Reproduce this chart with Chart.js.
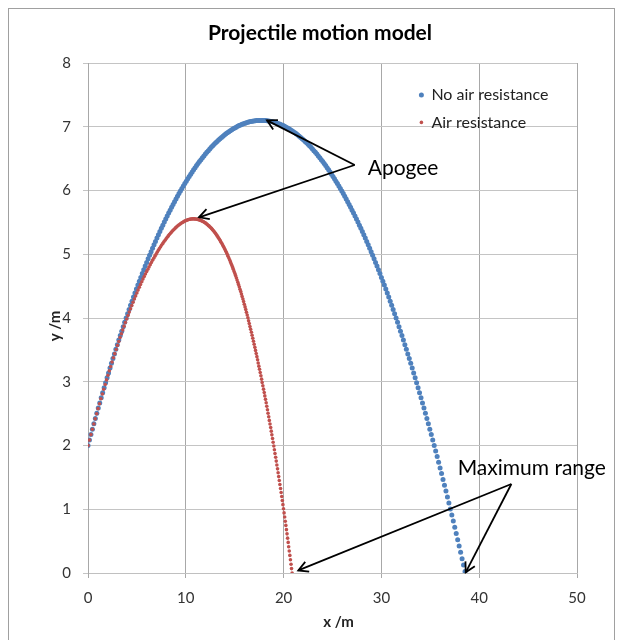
<!DOCTYPE html>
<html><head><meta charset="utf-8">
<script src="https://cdn.jsdelivr.net/npm/chart.js@4.4.1/dist/chart.umd.min.js"></script>
<style>html,body{margin:0;padding:0;background:#fff;} #wrap{width:623px;height:640px;}</style>
</head><body><div id="wrap"><canvas id="c" width="623" height="640"></canvas></div>
<script>
const chartTitle = 'Projectile motion model';
const xAxisTitle = 'x /m';
const yAxisTitle = 'y /m';
const seriesNames = ['No air resistance', 'Air resistance'];
const xTicks = [0, 10, 20, 30, 40, 50];
const yTicks = [0, 1, 2, 3, 4, 5, 6, 7, 8];

// [x, y] points
const noAirResistance = [[0,2],[0.15,2.086],[0.3,2.171],[0.45,2.256],[0.6,2.34],[0.75,2.423],[0.9,2.506],[1.05,2.587],[1.2,2.668],[1.35,2.748],[1.5,2.828],[1.65,2.907],[1.8,2.985],[1.95,3.062],[2.1,3.138],[2.25,3.214],[2.4,3.289],[2.55,3.364],[2.7,3.437],[2.85,3.51],[3,3.582],[3.15,3.654],[3.3,3.724],[3.45,3.794],[3.6,3.864],[3.75,3.932],[3.9,4],[4.05,4.067],[4.2,4.133],[4.35,4.199],[4.5,4.264],[4.65,4.328],[4.8,4.391],[4.95,4.454],[5.1,4.516],[5.25,4.577],[5.4,4.637],[5.55,4.697],[5.7,4.756],[5.85,4.814],[6,4.872],[6.15,4.928],[6.3,4.984],[6.45,5.04],[6.6,5.094],[6.75,5.148],[6.9,5.201],[7.05,5.254],[7.2,5.305],[7.35,5.356],[7.5,5.406],[7.65,5.456],[7.8,5.505],[7.95,5.553],[8.1,5.6],[8.25,5.646],[8.4,5.692],[8.55,5.737],[8.7,5.781],[8.85,5.825],[9,5.868],[9.15,5.91],[9.3,5.951],[9.45,5.992],[9.6,6.032],[9.75,6.071],[9.9,6.11],[10.05,6.147],[10.2,6.184],[10.35,6.221],[10.5,6.256],[10.65,6.291],[10.8,6.325],[10.95,6.358],[11.1,6.391],[11.25,6.423],[11.4,6.454],[11.55,6.484],[11.7,6.514],[11.85,6.543],[12,6.571],[12.15,6.599],[12.3,6.625],[12.45,6.651],[12.6,6.677],[12.75,6.701],[12.9,6.725],[13.05,6.748],[13.2,6.77],[13.35,6.792],[13.5,6.813],[13.65,6.833],[13.8,6.852],[13.95,6.871],[14.1,6.889],[14.25,6.906],[14.4,6.923],[14.55,6.938],[14.7,6.953],[14.85,6.968],[15,6.981],[15.15,6.994],[15.3,7.006],[15.45,7.018],[15.6,7.028],[15.75,7.038],[15.9,7.047],[16.05,7.056],[16.2,7.063],[16.35,7.07],[16.5,7.077],[16.65,7.082],[16.8,7.087],[16.95,7.091],[17.1,7.094],[17.25,7.097],[17.4,7.099],[17.55,7.1],[17.7,7.1],
[17.85,7.1],[18,7.099],[18.15,7.097],[18.3,7.094],[18.45,7.091],[18.6,7.087],[18.75,7.082],[18.9,7.077],[19.05,7.07],[19.2,7.063],[19.35,7.056],[19.5,7.047],[19.65,7.038],[19.8,7.028],[19.95,7.018],[20.1,7.006],[20.25,6.994],[20.4,6.981],[20.55,6.968],[20.7,6.953],[20.85,6.938],[21,6.923],[21.15,6.906],[21.3,6.889],[21.45,6.871],[21.6,6.852],[21.75,6.833],[21.9,6.813],[22.05,6.792],[22.2,6.77],[22.35,6.748],[22.5,6.725],[22.65,6.701],[22.8,6.677],[22.95,6.651],[23.1,6.625],[23.25,6.599],[23.4,6.571],[23.55,6.543],[23.7,6.514],[23.85,6.484],[24,6.454],[24.15,6.423],[24.3,6.391],[24.45,6.358],[24.6,6.325],[24.75,6.291],[24.9,6.256],[25.05,6.221],[25.2,6.184],[25.35,6.147],[25.5,6.11],[25.65,6.071],[25.8,6.032],[25.95,5.992],[26.1,5.951],[26.25,5.91],[26.4,5.868],[26.55,5.825],[26.7,5.781],[26.85,5.737],[27,5.692],[27.15,5.646],[27.3,5.6],[27.45,5.553],[27.6,5.505],[27.75,5.456],[27.9,5.406],[28.05,5.356],[28.2,5.305],[28.35,5.254],[28.5,5.201],[28.65,5.148],[28.8,5.094],[28.95,5.04],[29.1,4.984],[29.25,4.928],[29.4,4.872],[29.55,4.814],[29.7,4.756],[29.85,4.697],[30,4.637],[30.15,4.577],[30.3,4.516],[30.45,4.454],[30.6,4.391],[30.75,4.328],[30.9,4.264],[31.05,4.199],[31.2,4.133],[31.35,4.067],[31.5,4],[31.65,3.932],[31.8,3.864],[31.95,3.794],[32.1,3.724],[32.25,3.654],[32.4,3.582],[32.55,3.51],[32.7,3.437],[32.85,3.364],[33,3.289],[33.15,3.214],[33.3,3.138],[33.45,3.062],[33.6,2.985],[33.75,2.907],[33.9,2.828],[34.05,2.748],[34.2,2.668],[34.35,2.587],[34.5,2.506],[34.65,2.423],[34.8,2.34],[34.95,2.256],[35.1,2.171],[35.25,2.086],[35.4,2],[35.55,1.913],[35.7,1.826],[35.85,1.737],[36,1.648],[36.15,1.559],[36.3,1.468],[36.45,1.377],[36.6,1.285],[36.75,1.192],[36.9,1.099],[37.05,1.005],[37.2,0.91],[37.35,0.814],[37.5,0.718],[37.65,0.621],[37.8,0.523],[37.95,0.425],[38.1,0.325],[38.25,0.225],[38.4,0.125],[38.55,0.023]];

const airResistance = [[0,2],[0.15,2.086],[0.3,2.171],[0.45,2.254],[0.6,2.337],[0.74,2.418],[0.89,2.498],[1.03,2.578],[1.18,2.656],[1.32,2.733],[1.47,2.809],[1.61,2.883],[1.76,2.957],[1.9,3.029],[2.04,3.101],[2.18,3.171],[2.32,3.24],[2.46,3.309],[2.6,3.376],[2.74,3.441],[2.88,3.506],[3.01,3.57],[3.15,3.632],[3.28,3.694],[3.42,3.754],[3.55,3.813],[3.69,3.872],[3.82,3.929],[3.96,3.984],[4.09,4.039],[4.22,4.093],[4.35,4.146],[4.48,4.197],[4.61,4.247],[4.74,4.297],[4.87,4.345],[5,4.392],[5.12,4.438],[5.25,4.483],[5.37,4.526],[5.5,4.569],[5.62,4.61],[5.75,4.651],[5.87,4.69],[6,4.728],[6.12,4.765],[6.24,4.801],[6.36,4.837],[6.48,4.871],[6.6,4.905],[6.72,4.938],[6.84,4.97],[6.96,5.001],[7.07,5.032],[7.19,5.061],[7.3,5.09],[7.42,5.117],[7.53,5.144],[7.65,5.17],[7.76,5.196],[7.88,5.22],[7.99,5.243],[8.1,5.266],[8.21,5.288],[8.32,5.309],[8.43,5.329],[8.54,5.348],[8.65,5.367],[8.76,5.384],[8.86,5.401],[8.97,5.417],[9.07,5.431],[9.18,5.446],[9.28,5.459],[9.39,5.471],[9.49,5.483],[9.6,5.493],[9.7,5.503],[9.8,5.512],[9.9,5.52],[10,5.528],[10.1,5.534],[10.2,5.54],[10.3,5.544],[10.4,5.548],[10.49,5.551],[10.59,5.553],[10.68,5.555],[10.78,5.555],
[10.87,5.555],[10.95,5.554],[11.04,5.552],[11.13,5.55],[11.21,5.547],[11.3,5.544],[11.38,5.539],[11.47,5.535],[11.55,5.529],[11.64,5.523],[11.72,5.517],[11.81,5.509],[11.89,5.501],[11.98,5.493],[12.06,5.484],[12.14,5.474],[12.23,5.463],[12.31,5.452],[12.39,5.441],[12.48,5.428],[12.56,5.415],[12.64,5.402],[12.72,5.387],[12.81,5.372],[12.89,5.357],[12.97,5.341],[13.05,5.324],[13.13,5.306],[13.21,5.288],[13.29,5.27],[13.37,5.25],[13.45,5.23],[13.53,5.21],[13.61,5.189],[13.69,5.167],[13.77,5.144],[13.85,5.121],[13.93,5.097],[14.01,5.073],[14.09,5.048],[14.17,5.022],[14.25,4.996],[14.32,4.969],[14.4,4.941],[14.48,4.913],[14.56,4.884],[14.63,4.855],[14.71,4.825],[14.79,4.794],[14.86,4.763],[14.94,4.73],[15.02,4.698],[15.09,4.665],[15.17,4.631],[15.24,4.596],[15.32,4.561],[15.39,4.525],[15.47,4.489],[15.54,4.452],[15.62,4.414],[15.69,4.375],[15.76,4.336],[15.84,4.297],[15.91,4.257],[15.98,4.216],[16.06,4.174],[16.13,4.132],[16.2,4.089],[16.28,4.046],[16.35,4.002],
[16.42,3.957],[16.49,3.913],[16.56,3.867],[16.63,3.822],[16.71,3.776],[16.78,3.729],[16.85,3.682],[16.92,3.635],[16.99,3.588],[17.06,3.54],[17.13,3.492],[17.2,3.443],[17.27,3.394],[17.34,3.345],[17.4,3.295],[17.47,3.245],[17.54,3.195],[17.61,3.144],[17.68,3.093],[17.75,3.041],[17.81,2.989],[17.88,2.937],[17.95,2.884],[18.02,2.831],[18.08,2.778],[18.15,2.724],[18.22,2.67],[18.28,2.616],[18.35,2.561],[18.41,2.506],[18.48,2.45],[18.54,2.394],[18.61,2.338],[18.68,2.282],[18.74,2.225],[18.8,2.167],[18.87,2.109],[18.93,2.051],[19,1.993],[19.06,1.934],[19.12,1.875],[19.19,1.815],[19.25,1.755],[19.31,1.695],[19.38,1.634],[19.44,1.573],[19.5,1.512],[19.56,1.45],[19.62,1.388],[19.69,1.326],[19.75,1.263],[19.81,1.199],[19.87,1.136],[19.93,1.072],[19.99,1.008],[20.05,0.943],[20.11,0.878],[20.17,0.812],[20.23,0.747],[20.29,0.68],[20.35,0.614],[20.41,0.547],[20.47,0.48],[20.52,0.412],[20.58,0.344],[20.64,0.276],[20.7,0.207],[20.76,0.138],[20.81,0.069],[20.87,0]];

// callout annotations in data units
const callouts = [
  {text: 'Apogee', label: [28.6, 6.243], vertex: [27.27, 6.40], targets: [[18.3, 7.1], [11.35, 5.58]]},
  {text: 'Maximum range', label: [37.8, 1.537], vertex: [43.29, 1.396], targets: [[21.5, 0.04], [38.62, 0.01]]}
];
const legendAnchor = [34.09, 7.5];

const colors = ['#4F81BD', '#C0504D'];
const radii = [2.5, 1.8];

const decor = {
  id: 'decor',
  beforeDraw(chart) {
    const ctx = chart.ctx;
    ctx.save(); ctx.fillStyle = '#fff'; ctx.fillRect(0, 0, chart.width, chart.height); ctx.restore();
  },
  afterDraw(chart) {
    const ctx = chart.ctx, xs = chart.scales.x, ys = chart.scales.y, ca = chart.chartArea;
    ctx.save();
    ctx.strokeStyle = '#a0a0a0'; ctx.lineWidth = 1;
    ctx.strokeRect(8.5, 8.5, 606, 700);
    ctx.fillStyle = '#000';
    ctx.font = 'bold 21px Lato'; ctx.textAlign = 'center'; ctx.textBaseline = 'alphabetic';
    ctx.fillText(chartTitle, 320, 40);
    // axis titles
    ctx.font = 'bold 15px Lato'; ctx.fillStyle = '#222'; ctx.textBaseline = 'middle';
    ctx.fillText(xAxisTitle, (ca.left + ca.right) / 2 + 6, 622);
    ctx.save(); ctx.translate(55, 326); ctx.rotate(-Math.PI / 2); ctx.fillText(yAxisTitle, 0, 0); ctx.restore();
    // legend
    const lx = xs.getPixelForValue(legendAnchor[0]), ly = ys.getPixelForValue(legendAnchor[1]);
    ctx.font = '16px Lato'; ctx.textAlign = 'left'; ctx.textBaseline = 'middle';
    seriesNames.forEach((name, i) => {
      const yy = ly + i * 27.5;
      ctx.beginPath(); ctx.fillStyle = colors[i]; ctx.arc(lx, yy, radii[i], 0, Math.PI * 2); ctx.fill();
      ctx.fillStyle = '#222'; ctx.fillText(name, lx + 10, yy);
    });
    // callouts
    ctx.strokeStyle = '#000'; ctx.lineWidth = 1.8; ctx.fillStyle = '#000';
    callouts.forEach(a => {
      const vx = xs.getPixelForValue(a.vertex[0]), vy = ys.getPixelForValue(a.vertex[1]);
      a.targets.forEach(t => {
        const tx = xs.getPixelForValue(t[0]), ty = ys.getPixelForValue(t[1]);
        ctx.beginPath(); ctx.moveTo(vx, vy); ctx.lineTo(tx, ty); ctx.stroke();
        const ang = Math.atan2(ty - vy, tx - vx), L = 11, sp = 0.5;
        ctx.beginPath();
        ctx.moveTo(tx - L * Math.cos(ang - sp), ty - L * Math.sin(ang - sp));
        ctx.lineTo(tx, ty);
        ctx.lineTo(tx - L * Math.cos(ang + sp), ty - L * Math.sin(ang + sp));
        ctx.stroke();
      });
      ctx.font = '21px Lato'; ctx.textAlign = 'left'; ctx.textBaseline = 'alphabetic';
      ctx.fillText(a.text, xs.getPixelForValue(a.label[0]), ys.getPixelForValue(a.label[1]));
    });
    ctx.restore();
  }
};

Chart.defaults.font.family = 'Lato';

new Chart(document.getElementById('c'), {
  type: 'scatter',
  data: {
    datasets: [
      {label: seriesNames[0], data: noAirResistance.map(p => ({x: p[0], y: p[1]})), backgroundColor: colors[0], borderWidth: 0, pointRadius: radii[0], order: 1},
      {label: seriesNames[1], data: airResistance.map(p => ({x: p[0], y: p[1]})), backgroundColor: colors[1], borderWidth: 0, pointRadius: radii[1], order: 0}
    ]
  },
  options: {
    responsive: false,
    animation: false,
    events: [],
    layout: {padding: {left: 0, right: 46, top: 63, bottom: 0}},
    plugins: {legend: {display: false}, title: {display: false}, tooltip: {enabled: false}},
    scales: {
      x: {
        type: 'linear', min: 0, max: 50,
        afterBuildTicks: s => { s.ticks = xTicks.map(v => ({value: v})); },
        afterFit: s => { s.height = 67; },
        grid: {color: '#a8a8a8', lineWidth: 1, tickLength: 5},
        border: {color: '#c0c0c0', width: 1},
        ticks: {color: '#333', font: {size: 15}, padding: 11, maxRotation: 0},
        title: {display: false}
      },
      y: {
        type: 'linear', min: 0, max: 8,
        afterBuildTicks: s => { s.ticks = yTicks.map(v => ({value: v})); },
        afterFit: s => { s.width = 88; },
        grid: {color: '#c4c4c4', lineWidth: 1, tickLength: 5},
        border: {color: '#a8a8a8', width: 1},
        ticks: {color: '#333', font: {size: 15}, padding: 12},
        title: {display: false}
      }
    }
  },
  plugins: [decor]
});
</script>
</body></html>
